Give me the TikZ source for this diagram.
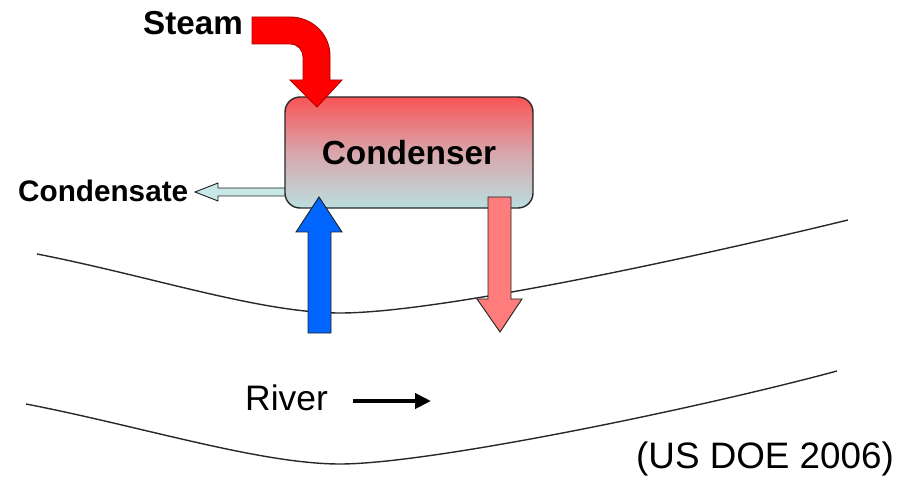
\documentclass[tikz,border=0pt]{standalone}
\usepackage{fontspec}
\setmainfont{Liberation Sans}
\usetikzlibrary{arrows.meta}
\definecolor{boxtop}{RGB}{248,84,86}
\definecolor{boxmid}{RGB}{216,166,171}
\definecolor{boxbot}{RGB}{186,222,224}
\definecolor{steamred}{RGB}{255,0,0}
\definecolor{coldblue}{RGB}{0,102,255}
\definecolor{warmpink}{RGB}{255,124,124}
\definecolor{condfill}{RGB}{200,232,232}
\definecolor{edgegray}{RGB}{40,40,40}
\tikzset{
  bank/.style={draw=edgegray, line width=1.4pt},
  blockarrow/.style={draw=edgegray!80!black, line width=0.9pt, line join=miter},
  lbl/.style={inner sep=0pt, anchor=base west},
}
\newcommand{\fsz}[1]{\fontsize{#1}{#1}\selectfont}
\begin{document}
\begin{tikzpicture}[x=1pt, y=-1pt]
\useasboundingbox (0,0) rectangle (918,478);

% river banks
\draw[bank] (37,254) .. controls (150,276) and (260,313) .. (340,313)
            .. controls (440,313) and (700,256) .. (848,220);
\draw[bank] (26,404) .. controls (140,426) and (260,464) .. (340,464)
            .. controls (430,464) and (700,408) .. (837,371);

% condensate outlet (behind the condenser)
\draw[blockarrow, fill=condfill] (286,188) -- (218,188) -- (218,183) -- (195,192)
      -- (218,201) -- (218,196) -- (286,196) -- cycle;

% condenser
\node[draw=edgegray, line width=1.4pt, rounded corners=15pt,
      minimum width=248pt, minimum height=111pt,
      top color=boxtop, bottom color=boxbot, middle color=boxmid,
      font=\bfseries\fsz{33.4}] (cond) at (409,152.5) {Condenser};

% steam inlet
\draw[blockarrow, draw=steamred!70!black, fill=steamred]
      (252,17) -- (290,17) .. controls (312,17) and (330,34) .. (330,56)
      -- (330,80) -- (342,80) -- (317,107) -- (290,80) -- (303,80)
      -- (303,57) .. controls (303,50) and (298,44) .. (290,44)
      -- (252,44) -- cycle;

% cooling water in and out
\draw[blockarrow, fill=coldblue] (308,333) -- (308,232) -- (296,232) -- (319,197)
      -- (342,232) -- (331,232) -- (331,333) -- cycle;
\draw[blockarrow, fill=warmpink] (488,197) -- (488,299) -- (477,299) -- (500,332)
      -- (522,299) -- (511,299) -- (511,197) -- cycle;

% labels
\node[lbl, font=\bfseries\fsz{33.2}] (steam) at (143,35) {Steam};
\node[lbl, font=\bfseries\fsz{29.7}] (condensate) at (18,202) {Condensate};
\node[lbl, font=\fsz{35.4}] (river) at (245,410) {River};
\node[lbl, font=\fsz{36.8}] (source) at (636,468) {(US DOE 2006)};

% flow direction
\coordinate (flowS) at (353,401);
\coordinate (flowE) at (431,401);
\draw[line width=4pt, -{Triangle[length=16pt,width=15pt]}] (flowS) -- (flowE);
\end{tikzpicture}
\end{document}
